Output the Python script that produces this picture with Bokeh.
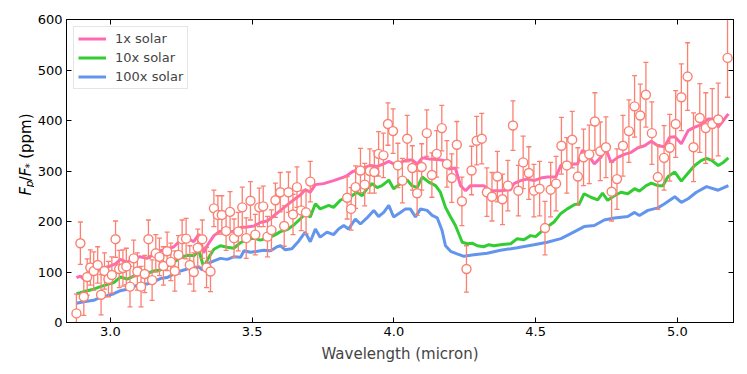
import math
from bokeh.plotting import figure
from bokeh.layouts import row
from bokeh.models import (Range1d, LinearAxis, FixedTicker, NumeralTickFormatter,
                          CustomJSTickFormatter, ColumnDataSource)
from bokeh.core.properties import value
from bokeh.embed import file_html
from bokeh.resources import INLINE

# ---------------- data ----------------
obs_wl = [2.880, 2.894, 2.906, 2.918, 2.929, 2.941, 2.955, 2.967, 2.979, 2.993,
          3.005, 3.018, 3.031, 3.044, 3.056, 3.069, 3.082, 3.095, 3.108, 3.121,
          3.134, 3.147, 3.160, 3.173, 3.187, 3.200, 3.213, 3.227, 3.240, 3.253,
          3.267, 3.280, 3.294, 3.308, 3.324, 3.339, 3.353, 3.365, 3.379, 3.393,
          3.408, 3.422, 3.436, 3.451, 3.465, 3.479, 3.494, 3.511, 3.525, 3.539,
          3.554, 3.568, 3.582, 3.599, 3.613, 3.628, 3.644, 3.658, 3.673, 3.690,
          3.705,
          3.835, 3.849, 3.865, 3.882, 3.897, 3.915, 3.931, 3.946, 3.963, 3.979,
          3.997, 4.014, 4.030, 4.047, 4.065, 4.082, 4.098, 4.116, 4.134, 4.151,
          4.169, 4.187, 4.204, 4.222, 4.240, 4.256, 4.274, 4.292, 4.310, 4.328,
          4.346, 4.365, 4.383, 4.402, 4.420, 4.439,
          4.456, 4.476, 4.494, 4.514, 4.533, 4.553, 4.572, 4.591, 4.610, 4.629,
          4.649, 4.669, 4.689, 4.709, 4.728, 4.748, 4.768, 4.787, 4.808, 4.829,
          4.849, 4.869, 4.889, 4.910, 4.931, 4.953, 4.973, 4.994, 5.014, 5.036,
          5.057, 5.079, 5.100, 5.123, 5.144, 5.177]

obs_depth = [18, 157, 51, 90, 109, 102, 114, 55, 102, 86,
             94, 165, 106, 108, 111, 71, 127, 101, 71, 96,
             165, 84, 137, 130, 112, 141, 120, 102, 134, 165,
             166, 114, 100, 148, 165, 109, 101, 226, 213, 213,
             181, 219, 167, 180, 228, 167, 241, 174, 228, 230,
             170, 183, 242, 258, 191, 258, 214, 268, 222, 218,
             279,
             247, 225, 268, 301, 273, 300, 298, 334, 331, 393,
             379, 311, 281, 364, 306, 256, 308, 375, 292, 334,
             385, 314, 286, 352, 240, 106, 301, 360, 364, 258,
             249, 289, 244, 271, 390, 261,
             317, 296, 261, 265, 187, 263, 275, 350, 311, 362,
             289, 327, 333, 398, 339, 347, 259, 284, 350, 379,
             428, 410, 451, 375, 288, 326, 346, 393, 446, 487,
             347, 405, 385, 393, 402, 524]

obs_err = [38, 42, 37, 36, 35, 38, 36, 40, 36, 35,
           36, 36, 37, 36, 36, 40, 36, 37, 40, 37,
           38, 40, 37, 37, 38, 38, 37, 40, 38, 38,
           40, 38, 38, 37, 38, 40, 40, 36, 38, 38,
           38, 40, 38, 38, 40, 40, 38, 40, 38, 40,
           40, 40, 34, 39, 40, 40, 40, 40, 40, 42,
           40,
           42, 42, 42, 44, 42, 44, 42, 44, 44, 42,
           44, 44, 44, 46, 44, 44, 46, 46, 44, 46,
           45, 46, 48, 46, 48, 46, 48, 48, 50, 48,
           48, 50, 50, 50, 49, 50,
           52, 52, 52, 54, 53, 54, 54, 56, 55, 56,
           57, 56, 58, 57, 58, 60, 58, 60, 60, 62,
           61, 62, 64, 62, 64, 64, 66, 66, 66, 67,
           68, 68, 70, 70, 72, 78]

m1_wl = [2.880, 2.894, 2.906, 2.929, 2.953, 2.976, 3.000, 3.018, 3.035, 3.059,
         3.082, 3.106, 3.129, 3.153, 3.176, 3.200, 3.224, 3.247, 3.271, 3.294,
         3.312, 3.329, 3.341, 3.365, 3.388, 3.412, 3.435, 3.459, 3.482, 3.506,
         3.529, 3.553, 3.576, 3.600, 3.624, 3.647, 3.671, 3.687, 3.705, 3.723,
         3.752, 3.787, 3.823, 3.835, 3.852, 3.870, 3.893, 3.917, 3.941, 3.964,
         3.982, 3.999, 4.023, 4.047, 4.064, 4.082, 4.100, 4.123, 4.153, 4.176,
         4.194, 4.217, 4.235, 4.253, 4.270, 4.294, 4.317, 4.341, 4.376, 4.412,
         4.423, 4.447, 4.470, 4.494, 4.518, 4.541, 4.571, 4.589, 4.612, 4.648,
         4.665, 4.683, 4.707, 4.730, 4.748, 4.766, 4.790, 4.813, 4.837, 4.861,
         4.884, 4.908, 4.931, 4.955, 4.973, 4.991, 5.014, 5.038, 5.061, 5.085,
         5.109, 5.132, 5.144, 5.162, 5.180]
m1_val = [89, 92, 86, 99, 102, 108, 112, 116, 125, 119,
          129, 130, 127, 135, 142, 145, 150, 163, 167, 160,
          175, 138, 152, 172, 181, 178, 181, 188, 189, 191,
          198, 201, 211, 222, 233, 243, 253, 263, 258, 273,
          275, 281, 288, 291, 298, 302, 306, 311, 309, 314,
          319, 314, 317, 322, 322, 314, 326, 324, 323, 321,
          304, 306, 271, 261, 271, 271, 271, 261, 261, 263,
          275, 281, 284, 281, 286, 288, 288, 311, 314, 314,
          341, 334, 314, 327, 344, 317, 327, 333, 337, 346,
          350, 359, 350, 348, 367, 368, 354, 380, 387, 392,
          403, 403, 387, 400, 413]

m10_wl = [2.880, 2.894, 2.918, 2.941, 2.965, 2.988, 3.012, 3.035, 3.059, 3.082,
          3.106, 3.129, 3.153, 3.176, 3.200, 3.224, 3.247, 3.271, 3.294, 3.312,
          3.329, 3.347, 3.365, 3.388, 3.412, 3.435, 3.459, 3.482, 3.506, 3.529,
          3.553, 3.576, 3.600, 3.624, 3.647, 3.671, 3.687, 3.705, 3.723, 3.740,
          3.770, 3.787, 3.811, 3.835, 3.852, 3.870, 3.888, 3.905, 3.923, 3.941,
          3.958, 3.982, 3.999, 4.023, 4.047, 4.064, 4.082, 4.100, 4.123, 4.147,
          4.164, 4.182, 4.200, 4.217, 4.241, 4.259, 4.276, 4.294, 4.317, 4.335,
          4.353, 4.376, 4.412, 4.435, 4.459, 4.482, 4.500, 4.530, 4.565, 4.589,
          4.612, 4.636, 4.654, 4.671, 4.695, 4.719, 4.736, 4.754, 4.778, 4.801,
          4.825, 4.849, 4.866, 4.890, 4.908, 4.931, 4.949, 4.967, 4.991, 5.014,
          5.038, 5.061, 5.085, 5.103, 5.121, 5.144, 5.162, 5.180]
m10_val = [57, 59, 63, 66, 71, 75, 79, 90, 86, 92,
           96, 97, 102, 104, 112, 119, 129, 133, 132, 142,
           110, 129, 145, 152, 149, 147, 158, 165, 167, 163,
           167, 172, 180, 184, 193, 206, 215, 209, 235, 225,
           232, 228, 242, 249, 251, 258, 251, 265, 275, 267,
           271, 282, 265, 275, 282, 271, 267, 288, 278, 271,
           258, 228, 209, 192, 159, 156, 157, 152, 150, 154,
           152, 154, 156, 166, 164, 172, 170, 185, 199, 216,
           225, 233, 235, 255, 248, 243, 256, 242, 251, 258,
           255, 265, 260, 271, 276, 271, 271, 289, 298, 280,
           296, 311, 321, 325, 321, 311, 317, 326]

m100_wl = [2.880, 2.906, 2.941, 2.965, 2.988, 3.012, 3.035, 3.059, 3.082, 3.106,
           3.129, 3.153, 3.176, 3.200, 3.224, 3.247, 3.271, 3.294, 3.312, 3.324,
           3.341, 3.365, 3.388, 3.412, 3.435, 3.459, 3.471, 3.494, 3.518, 3.541,
           3.565, 3.588, 3.600, 3.617, 3.640, 3.664, 3.687, 3.705, 3.723, 3.740,
           3.764, 3.787, 3.805, 3.823, 3.840, 3.864, 3.882, 3.905, 3.929, 3.946,
           3.964, 3.982, 3.999, 4.023, 4.041, 4.058, 4.076, 4.094, 4.117, 4.135,
           4.153, 4.170, 4.182, 4.200, 4.223, 4.247, 4.282, 4.329, 4.376, 4.435,
           4.494, 4.541, 4.589, 4.624, 4.671, 4.707, 4.742, 4.778, 4.825, 4.849,
           4.866, 4.896, 4.931, 4.955, 4.991, 5.014, 5.038, 5.067, 5.103, 5.144,
           5.180]
m100_val = [38, 41, 44, 50, 53, 57, 63, 66, 71, 76,
            76, 81, 87, 89, 96, 102, 106, 109, 110, 104,
            116, 122, 127, 125, 130, 129, 142, 139, 141, 143,
            142, 150, 152, 144, 146, 161, 179, 160, 185, 169,
            179, 174, 185, 192, 185, 205, 195, 207, 222, 210,
            218, 232, 209, 218, 225, 225, 209, 225, 222, 212,
            207, 182, 152, 141, 136, 131, 134, 137, 143, 148,
            154, 159, 166, 176, 190, 192, 203, 207, 210, 218,
            212, 222, 227, 235, 249, 238, 245, 258, 269, 262,
            271]

series_labels = ["1x solar", "10x solar", "100x solar"]
series_colors = ["#FF69B4", "#32CD32", "#6495ED"]
x_ticks = [3.0, 3.5, 4.0, 4.5, 5.0]
y_ticks = [0, 100, 200, 300, 400, 500, 600]
ylabel_parts = ["F", "p", "/", "F", "*", "(ppm)"]

# ---------------- main figure ----------------
FONT = "DejaVu Sans"
TOTAL_H = 372
LEFT_W = 34
p = figure(frame_width=667, frame_height=303,
           x_range=Range1d(2.845, 5.198), y_range=Range1d(0, 600),
           output_backend="svg", toolbar_location=None,
           min_border_left=66 - LEFT_W, min_border_top=19, min_border_right=8,
           min_border_bottom=TOTAL_H - 19 - 303)
p.background_fill_color = "white"
p.border_fill_color = "white"
p.outline_line_color = "black"
p.outline_line_width = 1
p.xgrid.visible = False
p.ygrid.visible = False

def style_axis(ax):
    ax.major_tick_in = 5
    ax.major_tick_out = 0
    ax.minor_tick_in = 0
    ax.minor_tick_out = 0
    ax.axis_line_color = "black"
    ax.major_tick_line_color = "black"
    ax.major_label_text_font = FONT
    ax.major_label_text_font_size = "13px"
    ax.major_label_text_color = "black"
    ax.major_label_standoff = 4

xa = p.xaxis[0]
ya = p.yaxis[0]
xa.ticker = FixedTicker(ticks=x_ticks)
xa.formatter = NumeralTickFormatter(format="0.0")
ya.ticker = FixedTicker(ticks=y_ticks)
ya.formatter = NumeralTickFormatter(format="0")
style_axis(xa)
style_axis(ya)
xa.axis_label = "Wavelength (micron)"
xa.axis_label_text_font = FONT
xa.axis_label_text_font_size = "15px"
xa.axis_label_text_font_style = "normal"
xa.axis_label_standoff = 6

blank = CustomJSTickFormatter(code="return ''")
top = LinearAxis(ticker=FixedTicker(ticks=x_ticks), formatter=blank)
right = LinearAxis(ticker=FixedTicker(ticks=y_ticks), formatter=blank)
style_axis(top)
style_axis(right)
top.major_label_standoff = 0
right.major_label_standoff = 0
p.add_layout(top, "above")
p.add_layout(right, "right")

# models
models = [(m1_wl, m1_val), (m10_wl, m10_val), (m100_wl, m100_val)]
for (wl, val), lab_txt, col in zip(models, series_labels, series_colors):
    p.line(wl, val, line_color=col, line_width=3, legend_label=lab_txt)

# error bars + points
upper = [d + e for d, e in zip(obs_depth, obs_err)]
lower = [d - e for d, e in zip(obs_depth, obs_err)]
src = ColumnDataSource(dict(x=obs_wl, y=obs_depth, up=upper, lo=lower))
SALMON = "#FA8072"
p.segment(x0="x", y0="lo", x1="x", y1="up", source=src, line_color=SALMON, line_width=1.3)
p.scatter(x="x", y="up", source=src, marker="dash", size=5, line_color=SALMON, line_width=1.3)
p.scatter(x="x", y="lo", source=src, marker="dash", size=5, line_color=SALMON, line_width=1.3)
p.scatter(x="x", y="y", source=src, marker="circle", size=9, fill_color="white",
          line_color=SALMON, line_width=1.4)

# legend
lg = p.legend[0]
lg.location = "top_left"
lg.margin = 7
lg.padding = 4
lg.spacing = 4
lg.glyph_width = 28
lg.glyph_height = 15
lg.label_height = 15
lg.label_standoff = 9
lg.label_text_font = FONT
lg.label_text_font_size = "13px"
lg.border_line_color = "#cccccc"
lg.border_line_width = 1
lg.background_fill_alpha = 0.8

# ---------------- y-axis label strip: F_p/F_* (ppm) ----------------
lab = figure(width=LEFT_W, height=TOTAL_H, x_range=Range1d(0, LEFT_W),
             y_range=Range1d(0, TOTAL_H), output_backend="svg",
             toolbar_location=None, min_border=0)
lab.axis.visible = False
lab.grid.visible = False
lab.outline_line_color = None
lab.background_fill_color = "white"
lab.border_fill_color = "white"

base_x = 25.5
start_y = TOTAL_H - 216
offsets = [0.0, 10.0, 17.5, 23.5, 33.0, 45.0]
shifts = [0.0, 2.8, 0.0, 0.0, 2.8, 0.0]
sizes = ["15px", "10.5px", "15px", "15px", "10.5px", "15px"]
styles = ["italic", "italic", "normal", "italic", "normal", "normal"]
for txt, off, sh, fs, st in zip(ylabel_parts, offsets, shifts, sizes, styles):
    lab.text(x=[base_x + sh], y=[start_y + off], text=[txt], angle=math.pi / 2,
             text_align="left", text_baseline="alphabetic",
             text_font=value(FONT), text_font_size=value(fs),
             text_font_style=st, text_color="black")

open("out.html", "w").write(file_html(row(lab, p), INLINE))
